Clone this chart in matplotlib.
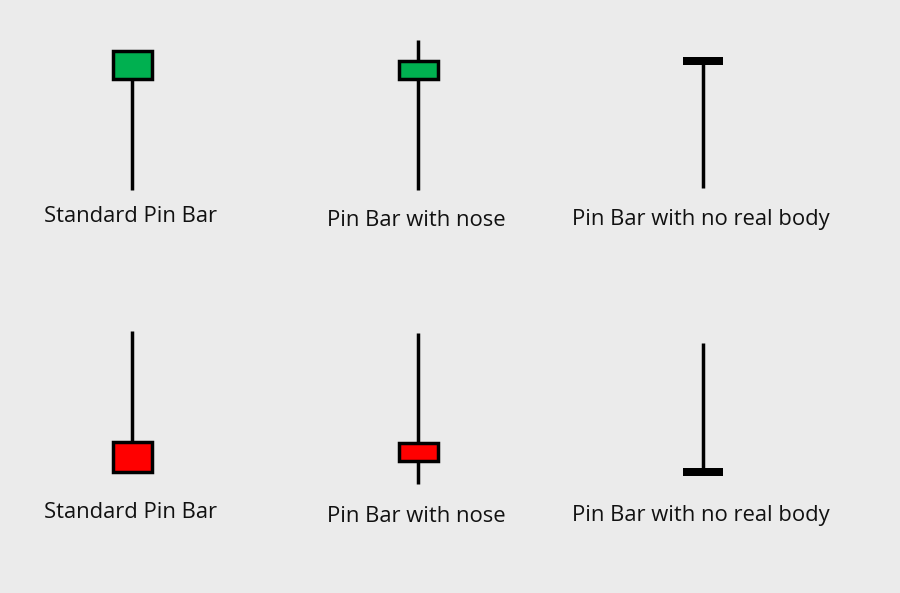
#!/usr/bin/env python3
"""Pin bar candlestick illustrations."""

import matplotlib
matplotlib.use('Agg')
import matplotlib.pyplot as plt
from matplotlib.patches import Rectangle

# Candle data (price units, arbitrary scale, up is higher)
x_pos = [132, 418, 703, 132, 418, 703]
opens = [514, 514, 532, 151, 150, 121]
closes = [542, 532, 532, 121, 132, 121]
highs = [542, 553, 536, 262, 260, 250]
lows = [403, 403, 405, 121, 109, 121]

labels = ["Standard Pin Bar", "Pin Bar with nose", "Pin Bar with no real body",
          "Standard Pin Bar", "Pin Bar with nose", "Pin Bar with no real body"]
label_x = [131, 416, 701, 131, 416, 701]
label_y = [376, 373, 373, 81, 77, 77]

BG = '#ebebeb'
GREEN = '#00b050'
RED = '#ff0000'
BODY_W = 39

fig = plt.figure(figsize=(9, 5.93), dpi=100)
fig.patch.set_facecolor(BG)
ax = fig.add_axes([0, 0, 1, 1])
ax.set_facecolor(BG)
ax.set_xlim(0, 900)
ax.set_ylim(0, 593)
ax.set_axis_off()

for x, o, c, h, l in zip(x_pos, opens, closes, highs, lows):
    ax.plot([x, x], [l, h], color='black', lw=2.5, solid_capstyle='butt', zorder=1)
    if o == c:
        # no real body: thick flat bar
        ax.add_patch(Rectangle((x - 20, o - 4), 40, 8, facecolor='black',
                               edgecolor='none', zorder=2))
    else:
        color = GREEN if c > o else RED
        ax.add_patch(Rectangle((x - BODY_W / 2, min(o, c)), BODY_W, abs(c - o),
                               facecolor=color, edgecolor='black', lw=2.5, zorder=2))

for lab, lx, ly in zip(labels, label_x, label_y):
    ax.text(lx, ly, lab, ha='center', va='center', fontsize=15.8,
            family='Open Sans', color='#111111')

plt.savefig('out.png', dpi=100, facecolor=BG)
plt.close()
